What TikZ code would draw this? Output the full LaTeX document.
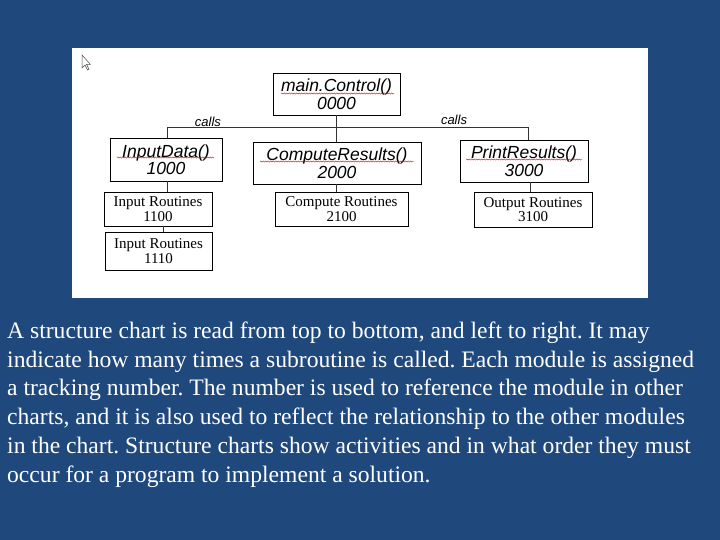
\documentclass[tikz,border=0pt]{standalone}
\usepackage{fontspec}
\setmainfont{Liberation Serif}
\newfontfamily\arial{Liberation Sans}
\usetikzlibrary{decorations.pathmorphing}
\definecolor{bg}{RGB}{31,73,125}
\begin{document}
\frenchspacing
\begin{tikzpicture}[x=1pt,y=-1pt,
  topbox/.style={draw=black,line width=0.9pt,fill=white,inner sep=0pt,font=\arial\itshape\fontsize{17.5}{17.5}\selectfont,align=center},
  subbox/.style={draw=black,line width=0.9pt,fill=white,inner sep=0pt,font=\fontsize{15}{14.5}\selectfont,align=center},
  wire/.style={line width=0.9pt,draw=black!80},
  squig/.style={red!80!black,line width=0.4pt,decorate,decoration={snake,amplitude=0.6pt,segment length=2.5pt}},
  para/.style={white,anchor=base west,inner sep=0pt,font=\fontsize{23.6}{25}\selectfont}]
\useasboundingbox (0,0) rectangle (720,540);
\fill[bg] (0,0) rectangle (720,540);
\fill[white] (72,48) rectangle (648,298);
% cursor
\draw[black!70,fill=white,line width=0.5pt] (82,55) -- (82,68) -- (85,65) -- (87.5,70) -- (89,69.3) -- (86.6,64.5) -- (90.5,64.5) -- cycle;
% boxes
\node[topbox,minimum width=127pt,minimum height=42pt] (main) at (336.5,94) {main.Control()\\0000};
\node[topbox,minimum width=112pt,minimum height=43pt] (inp) at (166,159.5) {InputData()\\1000};
\node[topbox,minimum width=168pt,minimum height=42pt] (comp) at (337,163) {ComputeResults()\\2000};
\node[topbox,minimum width=128pt,minimum height=42pt] (prt) at (524,161) {PrintResults()\\3000};
\node[subbox,minimum width=108pt,minimum height=34pt] (ir1) at (158,209) {Input Routines\\1100};
\node[subbox,minimum width=133pt,minimum height=34pt] (cr) at (341.5,209) {Compute Routines\\2100};
\node[subbox,minimum width=118pt,minimum height=35pt] (orr) at (533,209.5) {Output Routines\\3100};
\node[subbox,minimum width=107pt,minimum height=38pt] (ir2) at (158.5,251) {Input Routines\\1110};
% squiggles
\draw[squig] (281,93.5) -- (394,93.5);
\draw[squig] (117,157.5) -- (214,157.5);
\draw[squig] (260,161.5) -- (414,161.5);
\draw[squig] (466,159.5) -- (582,159.5);
% connectors
\coordinate (hl) at (167,127);
\coordinate (hr) at (528,127);
\draw[wire] (main.south) -- (main.south |- hl);
\draw[wire] (main.south |- hl) -- (comp.north -| main.south);
\draw[wire] (inp.north -| hl) -- (hl) -- (hr) -- (prt.north -| hr);
\draw[wire] (inp.south -| hl) -- (ir1.north -| hl);
\draw[wire] (comp.south -| main.south) -- (cr.north -| main.south);
\draw[wire] (prt.south -| 530,0) -- (orr.north -| 530,0);
\draw[wire] (ir1.south -| 163,0) -- (ir2.north -| 163,0);
\node[font=\arial\itshape\fontsize{13}{14}\selectfont,inner sep=0pt] (c1) at (208,122) {calls};
\node[font=\arial\itshape\fontsize{13}{14}\selectfont,inner sep=0pt] (c2) at (454,120) {calls};
% paragraph
\node[para] (l1) at (7,338) {A structure chart is read from top to bottom, and left to right. It may};
\node[para] (l2) at (7,367) {indicate how many times a subroutine is called. Each module is assigned};
\node[para] (l3) at (7,395.5) {a tracking number. The number is used to reference the module in other};
\node[para] (l4) at (7,424) {charts, and it is also used to reflect the relationship to the other modules};
\node[para] (l5) at (7,453) {in the chart. Structure charts show activities and in what order they must};
\node[para] (l6) at (7,482) {occur for a program to implement a solution.};
\end{tikzpicture}
\end{document}
